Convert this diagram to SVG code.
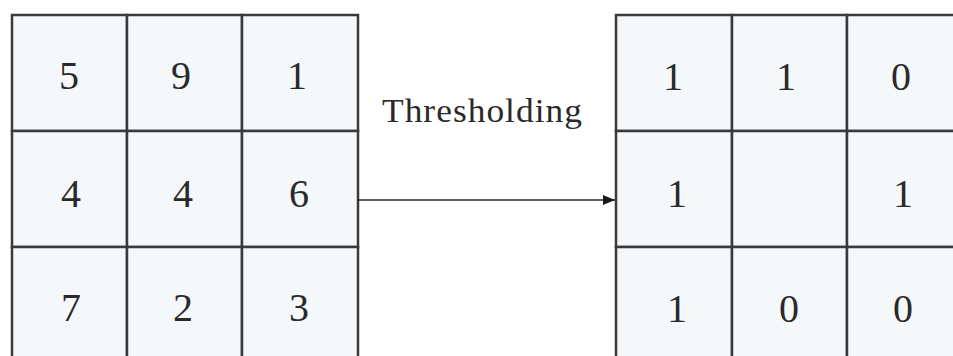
<svg xmlns="http://www.w3.org/2000/svg" width="953" height="356" viewBox="0 0 953 356">
<style>
.cell{fill:#f5f8fb;stroke:#3a3a3a;stroke-width:2.5}
.num{font-family:"Liberation Serif","DejaVu Serif",serif;font-size:40px;fill:#2a2a2a;text-anchor:middle}
.lbl{font-family:"Liberation Serif","DejaVu Serif",serif;font-size:34px;fill:#2a2a2a;letter-spacing:1px}
.conn{stroke:#2a2a2a;stroke-width:1.5;fill:none}
</style>
<defs>
<marker id="ah" markerWidth="12" markerHeight="10" refX="12" refY="5" orient="auto" markerUnits="userSpaceOnUse">
<path d="M0,0 L12,5 L0,10 Z" fill="#1a1a1a"/>
</marker>
</defs>
<rect width="953" height="356" fill="#ffffff"/>
<g id="input">
<rect class="cell" x="12" y="15" width="115" height="116"/>
<rect class="cell" x="127" y="15" width="115" height="116"/>
<rect class="cell" x="242" y="15" width="116" height="116"/>
<rect class="cell" x="12" y="131" width="115" height="116"/>
<rect class="cell" x="127" y="131" width="115" height="116"/>
<rect class="cell" x="242" y="131" width="116" height="116"/>
<rect class="cell" x="12" y="247" width="115" height="120"/>
<rect class="cell" x="127" y="247" width="115" height="120"/>
<rect class="cell" x="242" y="247" width="116" height="120"/>
<text class="num" x="69" y="89">5</text>
<text class="num" x="181" y="89">9</text>
<text class="num" x="297" y="89">1</text>
<text class="num" x="71" y="207">4</text>
<text class="num" x="183" y="207">4</text>
<text class="num" x="299" y="207">6</text>
<text class="num" x="71" y="321">7</text>
<text class="num" x="183" y="321">2</text>
<text class="num" x="299" y="321">3</text>
</g>
<g id="output">
<rect class="cell" x="616" y="15" width="116" height="116"/>
<rect class="cell" x="732" y="15" width="115" height="116"/>
<rect class="cell" x="847" y="15" width="116" height="116"/>
<rect class="cell" x="616" y="131" width="116" height="116"/>
<rect class="cell" x="732" y="131" width="115" height="116"/>
<rect class="cell" x="847" y="131" width="116" height="116"/>
<rect class="cell" x="616" y="247" width="116" height="120"/>
<rect class="cell" x="732" y="247" width="115" height="120"/>
<rect class="cell" x="847" y="247" width="116" height="120"/>
<text class="num" x="673" y="90">1</text>
<text class="num" x="786" y="90">1</text>
<text class="num" x="901" y="90">0</text>
<text class="num" x="677" y="207">1</text>
<text class="num" x="903" y="207">1</text>
<text class="num" x="677" y="322">1</text>
<text class="num" x="789" y="322">0</text>
<text class="num" x="903" y="322">0</text>
</g>
<g id="connectors">
<line class="conn" x1="358" y1="200" x2="615" y2="200" marker-end="url(#ah)"/>
</g>
<g id="label">
<text class="lbl" x="382" y="122" textLength="201" lengthAdjust="spacingAndGlyphs">Thresholding</text>
</g>
</svg>
